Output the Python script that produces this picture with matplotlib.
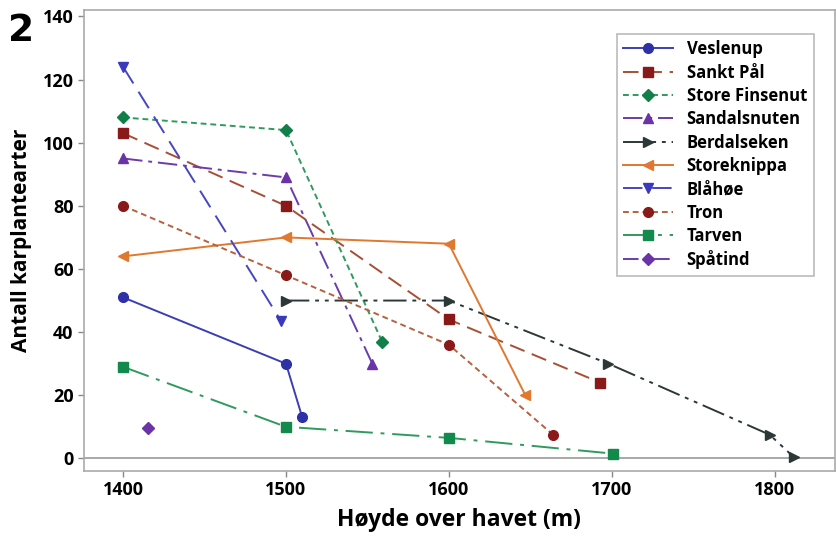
import matplotlib
matplotlib.use("Agg")
import matplotlib.pyplot as plt

plt.rcParams['font.family'] = ['Open Sans', 'DejaVu Sans']

# data
names = ["Veslenup", "Sankt Pål", "Store Finsenut", "Sandalsnuten", "Berdalseken",
         "Storeknippa", "Blåhøe", "Tron", "Tarven", "Spåtind"]
heights = [
    [1400, 1500, 1510],
    [1400, 1500, 1600, 1693],
    [1400, 1500, 1559],
    [1400, 1500, 1553],
    [1500, 1600, 1698, 1797, 1812],
    [1400, 1500, 1600, 1647],
    [1400, 1497],
    [1400, 1500, 1600, 1664],
    [1400, 1500, 1600, 1701],
    [1415],
]
counts = [
    [51, 30, 13],
    [103, 80, 44, 24],
    [108, 104, 37],
    [95, 89, 30],
    [50, 50, 30, 7.5, 0.3],
    [64, 70, 68, 20],
    [124, 43.5],
    [80, 58, 36, 7.5],
    [29, 10, 6.5, 1.5],
    [9.5],
]

line_colors = ["#3b3fb3", "#a84e35", "#2f9a5e", "#6b3cab", "#2c3838",
               "#e0782f", "#4645c4", "#b5613f", "#2f9a5e", "#6b3cab"]
marker_colors = ["#2e30a8", "#8a1a1a", "#118048", "#6a33a8", "#2c3838",
                 "#e0782f", "#3a38bd", "#8a1a1a", "#128a4c", "#6a33a8"]
markers = ["o", "s", "D", "^", ">", "<", "v", "o", "s", "D"]
styles = ["-", (0, (8, 4)), (0, (3, 2)), (0, (10, 3, 2, 3)), (0, (12, 3, 2, 3, 2, 3)),
          "-", (0, (10, 5)), (0, (3, 2)), (0, (14, 4, 2, 4)), (0, (8, 3, 2, 3))]

fig = plt.figure(figsize=(8.37, 5.5), dpi=100)
ax = fig.add_axes([0.1004, 0.1436, 0.897, 0.838])

ax.axhline(0, color="#9a9a9a", lw=1.2, zorder=1)
for name, xs, ys, lc, mc, mk, ls in zip(names, heights, counts, line_colors,
                                        marker_colors, markers, styles):
    ms = 6 if mk == "D" else 7
    ax.plot(xs, ys, color=lc, linestyle=ls, lw=1.4, marker=mk, ms=ms,
            markerfacecolor=mc, markeredgecolor=mc, label=name, zorder=3)

ax.set_xlim(1376, 1837)
ax.set_ylim(-4, 142)
ax.set_xticks([1400, 1500, 1600, 1700, 1800])
ax.set_yticks(range(0, 141, 20))
ax.tick_params(labelsize=13, color="#888888", length=4, width=1)
for lab in ax.get_xticklabels() + ax.get_yticklabels():
    lab.set_fontweight("bold")
for sp in ax.spines.values():
    sp.set_color("#aaaaaa")
    sp.set_linewidth(1.2)

ax.set_xlabel("Høyde over havet (m)", fontsize=16.5, fontweight="bold", labelpad=6)
ax.set_ylabel("Antall karplantearter", fontsize=15, fontweight="bold", labelpad=8)

leg = ax.legend(loc="upper right", bbox_to_anchor=(0.983, 0.967),
                prop={"weight": "bold", "size": 12}, frameon=True, fancybox=False,
                handlelength=3.0, labelspacing=0.32, borderpad=0.4, edgecolor="#aaaaaa")
leg.get_frame().set_linewidth(1.2)

fig.text(0.010, 0.925, "2", fontsize=27, fontweight="bold", family="DejaVu Sans")

fig.savefig("out.png", dpi=100)
